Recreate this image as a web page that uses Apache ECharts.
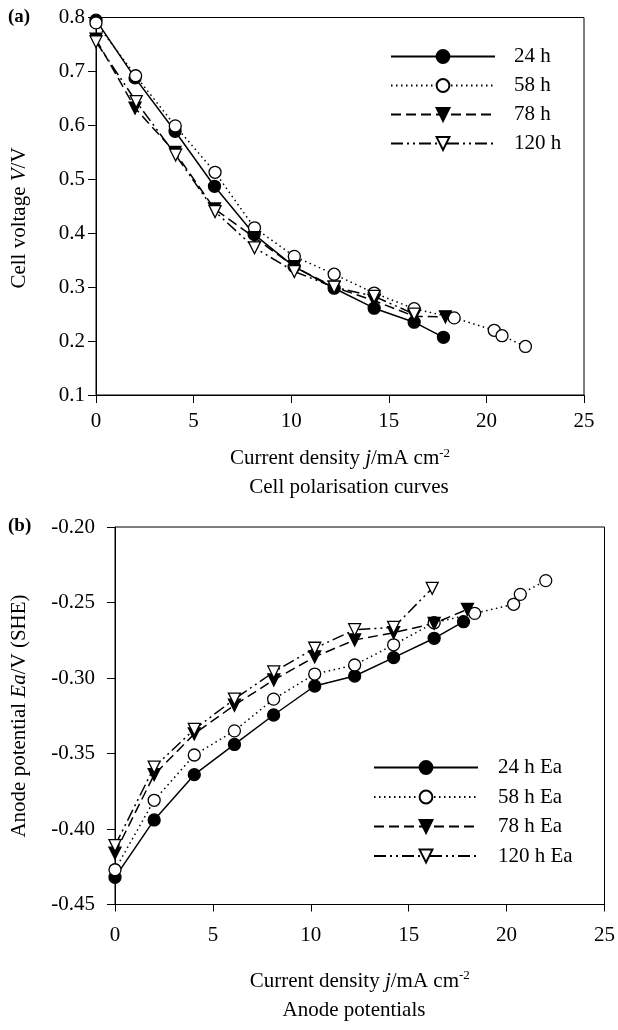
<!DOCTYPE html>
<html>
<head>
<meta charset="utf-8">
<script src="https://cdn.jsdelivr.net/npm/echarts@6/dist/echarts.min.js"></script>
<style>html,body{margin:0;padding:0;background:#fff}#c{width:618px;height:1030px}</style>
</head>
<body>
<div id="c"></div>
<script>
// ---- Data: (a) cell polarisation curves ----
const xTicks = [0, 5, 10, 15, 20, 25];
const cellX24 = [0, 2.0, 4.05, 6.07, 8.1, 10.15, 12.2, 14.25, 16.3, 17.8];
const cellV24 = [0.795, 0.688, 0.589, 0.487, 0.398, 0.338, 0.298, 0.261, 0.235, 0.207];
const cellX58 = [0, 2.03, 4.06, 6.1, 8.12, 10.16, 12.2, 14.25, 16.3, 18.35, 20.4, 20.8, 22.0];
const cellV58 = [0.79, 0.692, 0.599, 0.513, 0.41, 0.357, 0.324, 0.289, 0.26, 0.243, 0.22, 0.21, 0.19];
const cellX78 = [0, 2.0, 4.05, 6.07, 8.12, 10.16, 12.2, 14.25, 16.3, 17.9];
const cellV78 = [0.76, 0.632, 0.55, 0.445, 0.392, 0.338, 0.30, 0.275, 0.246, 0.245];
const cellX120 = [0, 2.06, 4.08, 6.1, 8.12, 10.16, 12.2, 14.25, 16.3];
const cellV120 = [0.755, 0.644, 0.545, 0.44, 0.373, 0.329, 0.30, 0.283, 0.25];

// ---- Data: (b) anode potentials ----
const anX24 = [0, 2.0, 4.05, 6.1, 8.1, 10.2, 12.24, 14.23, 16.3, 17.8];
const anE24 = [-0.432, -0.394, -0.364, -0.344, -0.3245, -0.3053, -0.2987, -0.2865, -0.2737, -0.2627];
const anX58 = [0, 2.0, 4.05, 6.1, 8.1, 10.2, 12.24, 14.23, 16.3, 18.37, 20.36, 20.7, 22.0];
const anE58 = [-0.427, -0.381, -0.351, -0.335, -0.314, -0.2974, -0.2914, -0.278, -0.2634, -0.2572, -0.2512, -0.2446, -0.2355];
const anX78 = [0, 2.0, 4.05, 6.1, 8.11, 10.2, 12.24, 14.23, 16.3, 18.0];
const anE78 = [-0.416, -0.364, -0.337, -0.318, -0.3013, -0.286, -0.2748, -0.27, -0.2638, -0.2545];
const anX120 = [0, 2.0, 4.05, 6.1, 8.11, 10.2, 12.24, 14.23, 16.2];
const anE120 = [-0.411, -0.359, -0.334, -0.314, -0.296, -0.2803, -0.268, -0.2665, -0.2406];

const namesA = ['24 h', '58 h', '78 h', '120 h'];
const namesB = ['24 h Ea', '58 h Ea', '78 h Ea', '120 h Ea'];

const FONT = 'Liberation Serif';
const FS = 21;

function pairs(xs, ys) { return xs.map((x, i) => [x, ys[i]]); }

const styles = [
  { symbol: 'circle', rot: 0, fill: '#000', dash: 'solid' },
  { symbol: 'circle', rot: 0, fill: '#fff', dash: [1.5, 3.5] },
  { symbol: 'triangle', rot: 180, fill: '#000', dash: [10, 5] },
  { symbol: 'triangle', rot: 180, fill: '#fff', dash: [12, 4, 2, 4, 2, 4] }
];

function mkSeries(name, data, idx, st) {
  return {
    type: 'line', name: name, data: data,
    xAxisIndex: idx, yAxisIndex: idx,
    symbol: st.symbol, symbolRotate: st.rot, symbolSize: 12,
    showAllSymbol: true,
    lineStyle: { color: '#000', width: 1.5, type: st.dash },
    itemStyle: { color: st.fill, borderColor: '#000', borderWidth: 1.3 },
    emphasis: { disabled: true },
    animation: false
  };
}

const cellData = [pairs(cellX24, cellV24), pairs(cellX58, cellV58), pairs(cellX78, cellV78), pairs(cellX120, cellV120)];
const anData = [pairs(anX24, anE24), pairs(anX58, anE58), pairs(anX78, anE78), pairs(anX120, anE120)];

const series = [];
namesA.forEach((n, i) => series.push(mkSeries(n, cellData[i], 0, styles[i])));
namesB.forEach((n, i) => series.push(mkSeries(n, anData[i], 1, styles[i])));

const axisCommon = {
  axisLine: { lineStyle: { color: '#000', width: 1 } },
  axisTick: { length: 8, lineStyle: { color: '#000', width: 1 } },
  splitLine: { show: false },
  axisLabel: { color: '#000', fontFamily: FONT, fontSize: FS }
};

const xName = {
  name: '{a|Current density }{i|j}{a|/mA cm}{s|-2}',
  nameLocation: 'middle',
  nameTextStyle: {
    rich: {
      a: { fontFamily: FONT, fontSize: FS, color: '#000' },
      i: { fontFamily: FONT, fontSize: FS, fontStyle: 'italic', color: '#000' },
      s: { fontFamily: FONT, fontSize: 13, color: '#000', verticalAlign: 'top', padding: [0, 0, 10, 0] }
    }
  }
};

const option = {
  backgroundColor: '#fff',
  animation: false,
  grid: [
    { left: 96, top: 17.5, width: 488, height: 377.5, show: true, borderColor: '#000', borderWidth: 1, backgroundColor: 'transparent' },
    { left: 115, top: 527, width: 490, height: 377.5, show: true, borderColor: '#000', borderWidth: 1, backgroundColor: 'transparent' }
  ],
  xAxis: [
    Object.assign({}, axisCommon, xName, { type: 'value', gridIndex: 0, min: xTicks[0], max: xTicks[xTicks.length - 1], interval: 5, nameGap: 52,
      axisLabel: Object.assign({}, axisCommon.axisLabel, { margin: 16 }) }),
    Object.assign({}, axisCommon, xName, { type: 'value', gridIndex: 1, min: xTicks[0], max: xTicks[xTicks.length - 1], interval: 5, nameGap: 65,
      axisLabel: Object.assign({}, axisCommon.axisLabel, { margin: 20 }), axisTick: { length: 7, lineStyle: { color: '#000' } } })
  ],
  yAxis: [
    Object.assign({}, axisCommon, { type: 'value', gridIndex: 0, min: 0.1, max: 0.8, interval: 0.1,
      axisLabel: Object.assign({}, axisCommon.axisLabel, { margin: 11, formatter: v => v.toFixed(1) }) }),
    Object.assign({}, axisCommon, { type: 'value', gridIndex: 1, min: -0.45, max: -0.20, interval: 0.05,
      axisLabel: Object.assign({}, axisCommon.axisLabel, { margin: 20, formatter: v => v.toFixed(2) }) })
  ],
  legend: [
    { data: namesA, orient: 'vertical', left: 385, top: 41, itemWidth: 104, itemHeight: 16, itemGap: 8,
      textStyle: { fontFamily: FONT, fontSize: FS, color: '#000', padding: [0, 0, 0, 14] }, selectedMode: false },
    { data: namesB, orient: 'vertical', left: 368, top: 752, itemWidth: 104, itemHeight: 16, itemGap: 8.5,
      textStyle: { fontFamily: FONT, fontSize: FS, color: '#000', padding: [0, 0, 0, 15] }, selectedMode: false }
  ],
  graphic: [
    { type: 'text', left: 8, top: 8, style: { text: '(a)', fontFamily: FONT, fontSize: 19, fontWeight: 'bold', fill: '#000' } },
    { type: 'text', left: 8, top: 517, style: { text: '(b)', fontFamily: FONT, fontSize: 19, fontWeight: 'bold', fill: '#000' } },
    { type: 'text', x: 19, y: 218, rotation: Math.PI / 2,
      style: { text: '{a|Cell voltage }{i|V}{a|/V}', align: 'center', verticalAlign: 'middle',
        rich: { a: { fontFamily: FONT, fontSize: FS, fill: '#000' }, i: { fontFamily: FONT, fontSize: FS, fontStyle: 'italic', fill: '#000' } } } },
    { type: 'text', x: 19, y: 716, rotation: Math.PI / 2,
      style: { text: '{a|Anode potential }{i|Ea}{a|/V (SHE)}', align: 'center', verticalAlign: 'middle',
        rich: { a: { fontFamily: FONT, fontSize: FS, fill: '#000' }, i: { fontFamily: FONT, fontSize: FS, fontStyle: 'italic', fill: '#000' } } } },
    { type: 'text', x: 349, y: 487, style: { text: 'Cell polarisation curves', align: 'center', verticalAlign: 'middle', fontFamily: FONT, fontSize: FS, fill: '#000' } },
    { type: 'text', x: 354, y: 1010, style: { text: 'Anode potentials', align: 'center', verticalAlign: 'middle', fontFamily: FONT, fontSize: FS, fill: '#000' } }
  ],
  series: series
};

const chart = echarts.init(document.getElementById('c'), null, { renderer: 'canvas' });
chart.setOption(option);
</script>
</body>
</html>
